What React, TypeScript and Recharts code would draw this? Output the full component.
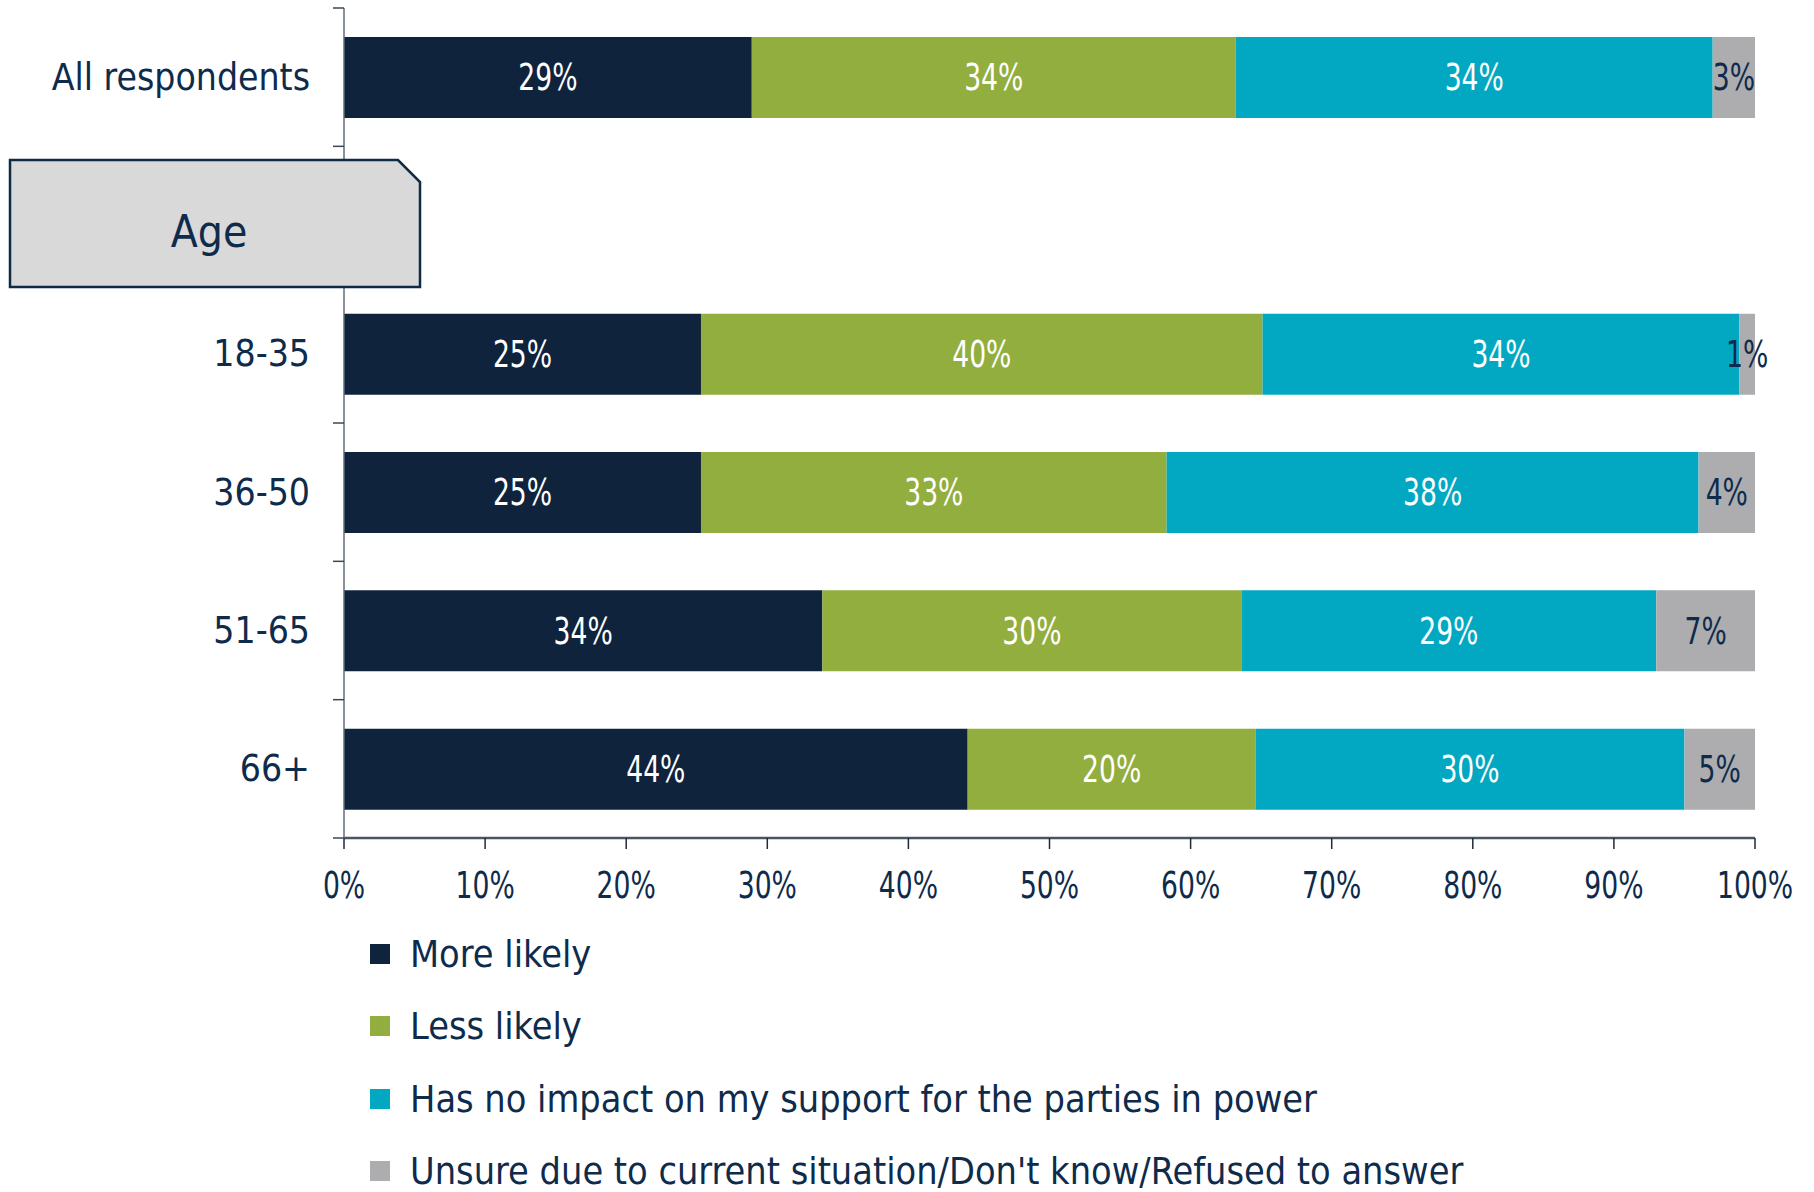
import React from 'react';
import { BarChart, Bar, XAxis, YAxis, LabelList } from 'recharts';

const categories = ['All respondents', 'Age', '18-35', '36-50', '51-65', '66+'];
const moreLikely = [28.9, null, 25.3, 25.3, 33.9, 44.2];
const lessLikely = [34.3, null, 39.8, 33.0, 29.7, 20.4];
const noImpact = [33.8, null, 33.8, 37.7, 29.4, 30.4];
const unsure = [3.0, null, 1.1, 4.0, 7.0, 5.0];
const xTicks = [0, 10, 20, 30, 40, 50, 60, 70, 80, 90, 100];

const seriesNames = [
  'More likely',
  'Less likely',
  'Has no impact on my support for the parties in power',
  "Unsure due to current situation/Don't know/Refused to answer",
];

const NAVY_TEXT = '#0e2b4c';
const TEXT_FONT = "'DejaVu Sans Condensed', 'DejaVu Sans', sans-serif";
const NUM_SIZE = 37;
const NUM_SQUEEZE = 0.8; // numbers in the original are a narrow face

const SERIES = [
  { key: 'more', name: seriesNames[0], values: moreLikely, color: '#10233d', label: '#ffffff' },
  { key: 'less', name: seriesNames[1], values: lessLikely, color: '#91ae3f', label: '#ffffff' },
  { key: 'none', name: seriesNames[2], values: noImpact, color: '#02a8c2', label: '#ffffff' },
  { key: 'unsure', name: seriesNames[3], values: unsure, color: '#adadaf', label: NAVY_TEXT },
];

const data = categories.map((name, i) => {
  const row: Record<string, any> = { name };
  SERIES.forEach(s => { row[s.key] = s.values[i]; });
  return row;
});

// plot geometry
const CHART_W = 1814;
const CHART_H = 930;
const TOP = 8;
const AXIS_X = 344;
const PLOT_H = 830;
const BAND = PLOT_H / categories.length;

const YTick = (props: any) => {
  const { x, y, payload } = props;
  const isLast = payload.value === categories[categories.length - 1];
  return (
    <g>
      <text
        x={x}
        y={y}
        textAnchor="end"
        dominantBaseline="central"
        fill={NAVY_TEXT}
        fontFamily={TEXT_FONT}
        fontSize={37}
      >
        {payload.value === 'Age' ? '' : payload.value}
      </text>
      <line x1={AXIS_X - 11} x2={AXIS_X} y1={y - BAND / 2} y2={y - BAND / 2} stroke="#3a4656" strokeWidth={1.5} />
      {isLast && (
        <line x1={AXIS_X - 11} x2={AXIS_X} y1={y + BAND / 2} y2={y + BAND / 2} stroke="#3a4656" strokeWidth={1.5} />
      )}
    </g>
  );
};

const XTick = (props: any) => {
  const { x, y, payload } = props;
  return (
    <g transform={`translate(${x},${y})`}>
      <text
        transform={`scale(${NUM_SQUEEZE},1)`}
        textAnchor="middle"
        dy="0.71em"
        fill={NAVY_TEXT}
        fontFamily={TEXT_FONT}
        fontSize={NUM_SIZE}
      >
        {`${payload.value}%`}
      </text>
    </g>
  );
};

const makeLabel = (color: string) => (props: any) => {
  const { x, y, width, height, value } = props;
  if (value == null) return null;
  const cx = Number(x) + Number(width) / 2;
  const cy = Number(y) + Number(height) / 2;
  return (
    <g transform={`translate(${cx},${cy})`}>
      <text
        transform={`scale(${NUM_SQUEEZE},1)`}
        textAnchor="middle"
        dominantBaseline="central"
        fill={color}
        fontFamily={TEXT_FONT}
        fontSize={NUM_SIZE}
      >
        {`${Math.round(Number(value))}%`}
      </text>
    </g>
  );
};

export default function App() {
  return (
    <div style={{ position: 'relative', width: CHART_W, height: 1192, overflow: 'hidden', background: '#fff' }}>
      <style>{`body{margin:0;overflow:hidden;}`}</style>
      <BarChart
        width={CHART_W}
        height={CHART_H}
        data={data}
        layout="vertical"
        margin={{ top: TOP, right: 59, bottom: 40, left: 0 }}
        barSize={81}
      >
        <XAxis
          type="number"
          domain={[0, 100]}
          ticks={xTicks}
          height={52}
          tickSize={11}
          tickMargin={23}
          axisLine={{ stroke: '#4a5563', strokeWidth: 2.5 }}
          tickLine={{ stroke: '#1f2a38', strokeWidth: 1.5 }}
          tick={<XTick />}
          interval={0}
        />
        <YAxis
          type="category"
          dataKey="name"
          width={AXIS_X}
          tickSize={10}
          tickMargin={24}
          tickLine={false}
          axisLine={{ stroke: '#5f6b7a', strokeWidth: 1.5 }}
          tick={<YTick />}
          interval={0}
        />
        {SERIES.map(s => (
          <Bar key={s.key} dataKey={s.key} name={s.name} stackId="a" fill={s.color} isAnimationActive={false}>
            <LabelList dataKey={s.key} content={makeLabel(s.label)} />
          </Bar>
        ))}
      </BarChart>

      {/* Age section header box */}
      <svg style={{ position: 'absolute', left: 0, top: 0 }} width={440} height={300}>
        <path
          d="M10,160 L398,160 L420,182 L420,287 L10,287 Z"
          fill="#d9d9d9"
          stroke="#0f2a44"
          strokeWidth={2.5}
        />
        <text
          x={209}
          y={231}
          textAnchor="middle"
          dominantBaseline="central"
          fill={NAVY_TEXT}
          fontFamily={TEXT_FONT}
          fontSize={44}
        >
          Age
        </text>
      </svg>

      {/* legend */}
      {SERIES.map((s, i) => (
        <div
          key={s.key}
          style={{
            position: 'absolute',
            left: 370,
            top: 954 + i * 72.3 - 14,
            height: 28,
            display: 'flex',
            alignItems: 'center',
            whiteSpace: 'nowrap',
          }}
        >
          <span style={{ width: 20, height: 20, background: s.color, display: 'inline-block', marginRight: 20 }} />
          <span style={{ fontFamily: TEXT_FONT, fontSize: 37.5, color: NAVY_TEXT, lineHeight: '28px' }}>{s.name}</span>
        </div>
      ))}
    </div>
  );
}
